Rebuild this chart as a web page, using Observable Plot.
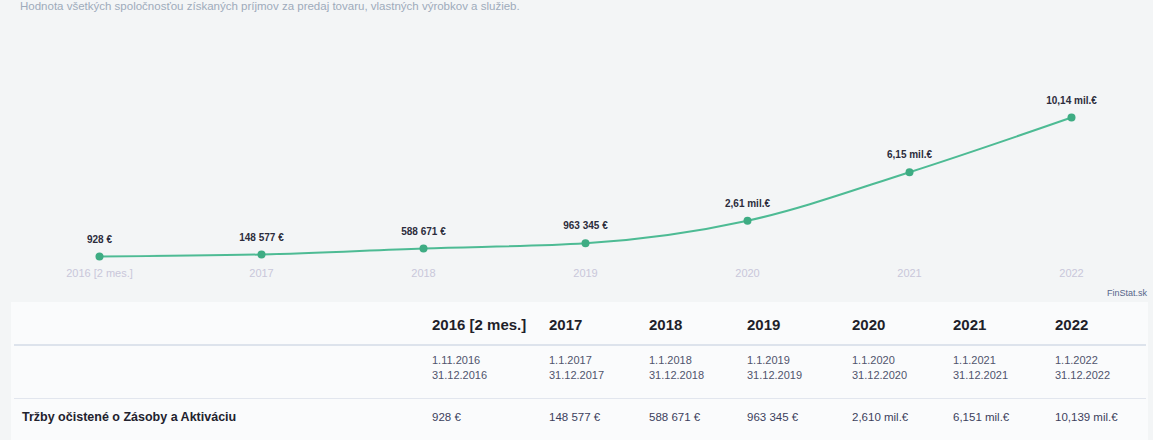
<!DOCTYPE html>
<html>
<head>
<meta charset="utf-8">
<script src="https://cdn.jsdelivr.net/npm/d3@7"></script>
<script src="https://cdn.jsdelivr.net/npm/@observablehq/plot@0.6"></script>
<style>
  html, body { margin: 0; padding: 0; background: #f3f5f6; width: 1153px; height: 440px; overflow: hidden; font-family: "Liberation Sans", Arial, sans-serif; }
  #title { position: absolute; left: 20px; top: 0px; font-size: 11.5px; line-height: 13px; color: #9eabbb; white-space: nowrap; }
  #chart { position: absolute; left: 0; top: 0; }
  #src { position: absolute; right: 6px; top: 288px; font-size: 9px; color: #56658a; }
  #panel { position: absolute; left: 11px; top: 302px; width: 1137px; height: 138px; background: #fafbfc; }
  .cell { position: absolute; white-space: nowrap; }
  .hdr { font-size: 15px; font-weight: bold; color: #1f1f2a; top: 14px; }
  .date { font-size: 11px; color: #50546c; line-height: 15px; top: 51px; }
  .val { font-size: 11.5px; color: #3c3f5c; top: 109px; }
  .rowlab { font-size: 12.5px; font-weight: bold; color: #22222e; top: 108px; left: 11px; }
  .sep { position: absolute; left: 3px; width: 1132px; }
</style>
</head>
<body>
<div id="title">Hodnota všetkých spoločnosťou získaných príjmov za predaj tovaru, vlastných výrobkov a služieb.</div>
<div id="chart"></div>
<div id="src">FinStat.sk</div>
<div id="panel"></div>
<script>
const categories = ["2016 [2 mes.]", "2017", "2018", "2019", "2020", "2021", "2022"];
const revenue = [928, 148577, 588671, 963345, 2610000, 6151000, 10139000];
const periodStart = ["1.11.2016", "1.1.2017", "1.1.2018", "1.1.2019", "1.1.2020", "1.1.2021", "1.1.2022"];
const periodEnd = ["31.12.2016", "31.12.2017", "31.12.2018", "31.12.2019", "31.12.2020", "31.12.2021", "31.12.2022"];
const rowLabel = "Tržby očistené o Zásoby a Aktiváciu";

function thousands(v) {
  return String(Math.round(v)).replace(/\B(?=(\d{3})+(?!\d))/g, " ");
}
function shortLabel(v) {
  return v < 1e6 ? thousands(v) + " €" : (v / 1e6).toFixed(2).replace(".", ",") + " mil.€";
}
function tableLabel(v) {
  return v < 1e6 ? thousands(v) + " €" : (v / 1e6).toFixed(3).replace(".", ",") + " mil.€";
}

const data = categories.map((c, i) => ({cat: c, v: revenue[i], label: shortLabel(revenue[i])}));

const chart = Plot.plot({
  width: 1153,
  height: 300,
  marginLeft: 99,
  marginRight: 82,
  marginTop: 117,
  marginBottom: 44,
  style: {background: "transparent", fontFamily: "Liberation Sans, Arial, sans-serif", overflow: "visible"},
  x: {type: "point", domain: categories, padding: 0, label: null},
  y: {domain: [0, d3.max(revenue)], axis: null},
  marks: [
    Plot.axisX({tickSize: 0, tickPadding: 13, fontSize: 11, color: "#c9c7da", label: null}),
    Plot.line(data, {x: "cat", y: "v", curve: "monotone-x", stroke: "#4dbb94", strokeWidth: 2}),
    Plot.dot(data, {x: "cat", y: "v", r: 4, fill: "#3eac83"}),
    Plot.text(data, {x: "cat", y: "v", text: "label", dy: -17, fontSize: 10, fontWeight: "bold", fill: "#2c2c3c"})
  ]
});
document.getElementById("chart").appendChild(chart);

// table
const panel = document.getElementById("panel");
const colX = [421, 538, 638, 736, 841, 942, 1044];
function cell(cls, text, left) {
  const d = document.createElement("div");
  d.className = "cell " + cls;
  if (left !== undefined) d.style.left = left + "px";
  d.innerHTML = text;
  panel.appendChild(d);
  return d;
}
categories.forEach((c, i) => {
  cell("hdr", c, colX[i]);
  cell("date", periodStart[i] + "<br>" + periodEnd[i], colX[i]);
  cell("val", tableLabel(revenue[i]), colX[i]);
});
cell("rowlab", rowLabel);
const s1 = document.createElement("div");
s1.className = "sep"; s1.style.top = "42px"; s1.style.height = "2px"; s1.style.background = "#dde3ec";
panel.appendChild(s1);
const s2 = document.createElement("div");
s2.className = "sep"; s2.style.top = "96px"; s2.style.height = "1px"; s2.style.background = "#e2e6ee";
panel.appendChild(s2);
</script>
</body>
</html>
